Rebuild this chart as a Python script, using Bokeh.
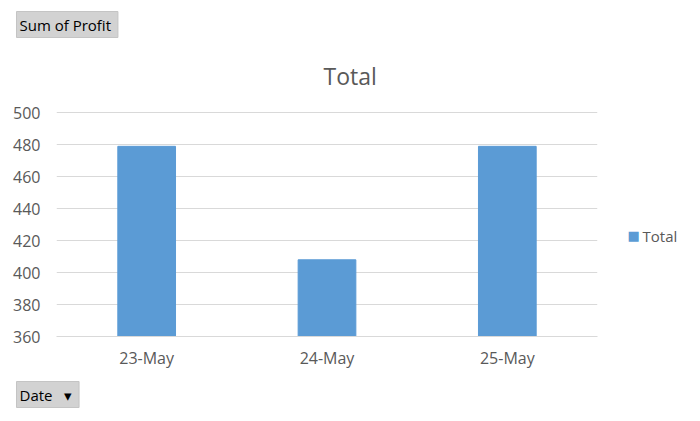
from bokeh.plotting import figure
from bokeh.models import Range1d, FactorRange, Title, LinearAxis, FixedTicker
from bokeh.embed import file_html
from bokeh.resources import INLINE

dates = ["23-May", "24-May", "25-May"]
profit = [479, 408, 479]
y_ticks = [360, 380, 400, 420, 440, 460, 480, 500]
series_name = "Total"
value_field = "Sum of Profit"
row_field = "Date"
legend_row = 423  # y level at which the legend entry sits

FONT = "Open Sans"
GREY_TEXT = "#595959"
BAR = "#5b9bd5"
BTN = "#d2d2d2"
NB = "\u00a0"

FL, FT, FR, FB = 56, 111, 597, 336  # frame edges in page pixels
W, H = 692, 413

p = figure(frame_width=FR - FL, frame_height=FB - FT,
           x_range=FactorRange(*dates, range_padding=0),
           y_range=Range1d(360, 500.8), output_backend="svg", toolbar_location=None,
           min_border_left=FL, min_border_right=W - FR, min_border_top=FT,
           min_border_bottom=H - FB)

r = p.vbar(x=dates, top=profit, bottom=360, width=0.32, color=BAR)

p.outline_line_color = None
p.background_fill_color = "white"
p.border_fill_color = "white"

p.ygrid.grid_line_color = "#d9d9d9"
p.ygrid.ticker = y_ticks
p.xgrid.grid_line_color = None
p.yaxis.ticker = y_ticks
p.yaxis.axis_line_color = None
p.yaxis.major_tick_line_color = None
p.yaxis.minor_tick_line_color = None
p.yaxis.major_tick_out = 0
p.yaxis.major_label_standoff = 16
p.xaxis.axis_line_color = "#d9d9d9"
p.xaxis.major_tick_line_color = None
p.xaxis.minor_tick_line_color = None
p.xaxis.major_tick_out = 0
p.xaxis.major_label_standoff = 10
for ax in (p.xaxis[0], p.yaxis[0]):
    ax.major_label_text_font = FONT
    ax.major_label_text_font_size = "16px"
    ax.major_label_text_color = GREY_TEXT

# Chart title
p.add_layout(Title(text=series_name, align="left", offset=267, standoff=40,
                   text_font=FONT, text_font_size="23px", text_color=GREY_TEXT,
                   text_font_style="normal"), "above")

# Pivot field buttons
p.add_layout(Title(text=value_field + NB, align="left", offset=-40, standoff=0,
                   text_font=FONT, text_font_size="15px", text_color="black",
                   text_font_style="normal", background_fill_color=BTN,
                   border_line_color="#c4c4c4", padding=3), "above")
p.add_layout(Title(text=row_field + NB * 3 + "▾" + NB, align="left", offset=-40,
                   standoff=16, text_font=FONT, text_font_size="15px", text_color="black",
                   text_font_style="normal", background_fill_color=BTN,
                   border_line_color="#c4c4c4", padding=3), "below")


# Legend entry (swatch + label) drawn as two bare axes in the right panel
def legend_axis(label, standoff, font, size, color):
    ax = LinearAxis(ticker=FixedTicker(ticks=[legend_row]),
                    major_label_overrides={legend_row: label},
                    axis_line_color=None, major_tick_line_color=None,
                    minor_tick_line_color=None, major_tick_out=0, major_tick_in=0,
                    minor_tick_out=0, minor_tick_in=0,
                    major_label_standoff=standoff, major_label_text_font=font,
                    major_label_text_font_size=size, major_label_text_color=color)
    p.add_layout(ax, "right")


legend_axis("■", 30, "DejaVu Sans", "13px", BAR)
legend_axis(series_name, 0, FONT, "15px", GREY_TEXT)

open("out.html", "w").write(file_html(p, INLINE))
